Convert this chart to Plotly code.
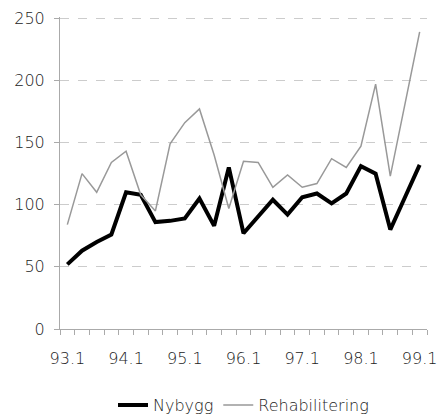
import plotly.graph_objects as go

# kvartaler 93.1 - 99.1
kvartal = [f"{aar}.{q}" for aar in range(93, 100) for q in range(1, 5)][:25]

nybygg = [52, 63, 70, 76, 110, 108, 86, 87, 89, 105, 83, 130, 77, 91, 104, 92,
          106, 109, 101, 109, 131, 125, 80, 106, 132]
rehabilitering = [84, 125, 110, 134, 143, 108, 95, 149, 166, 177, 140, 97, 135, 134, 114, 124,
                  114, 117, 137, 130, 147, 197, 123, 180, 239]

x = list(range(len(kvartal)))
tick_idx = x[::4]
tick_txt = [kvartal[i] for i in tick_idx]

fig = go.Figure()

fig.add_trace(go.Scatter(x=x, y=nybygg, name="Nybygg", mode="lines",
                         line=dict(color="black", width=4)))
fig.add_trace(go.Scatter(x=x, y=rehabilitering, name="Rehabilitering", mode="lines",
                         line=dict(color="#999999", width=1.5)))

fig.update_layout(
    width=439, height=420,
    margin=dict(l=60, r=12, t=17, b=91, autoexpand=False),
    paper_bgcolor="white", plot_bgcolor="white",
    font=dict(family="DejaVu Sans, sans-serif", size=16, color="#222222", weight=200),
    showlegend=True,
    legend=dict(orientation="h", x=0.5, xanchor="center", y=-0.244, yanchor="middle",
                font=dict(size=16), bgcolor="rgba(0,0,0,0)"),
)

fig.update_xaxes(
    range=[-0.5, len(kvartal) - 0.5],
    tickmode="array", tickvals=tick_idx, ticktext=tick_txt,
    ticks="", showgrid=False, zeroline=False, automargin=False,
    showline=True, linecolor="#aaaaaa", linewidth=1,
    tickfont=dict(color="#222222"),
    ticklabelstandoff=15,
    minor=dict(ticks="outside", tick0=-0.5, dtick=1, ticklen=5, tickcolor="#aaaaaa", showgrid=False),
)

fig.update_yaxes(
    range=[0, 251], tickvals=[0, 50, 100, 150, 200, 250],
    ticks="outside", ticklen=5, tickcolor="#aaaaaa", automargin=False,
    showline=True, linecolor="#aaaaaa", linewidth=1,
    tickfont=dict(color="#222222"),
    ticklabelstandoff=6,
    showgrid=True, gridcolor="#cccccc", griddash="dash", gridwidth=1,
    zeroline=False,
)

# fjern standardmargen i nettleseren så figuren fyller vinduet
fig.write_html("out.html", config={"displayModeBar": False},
               post_script="document.body.style.margin='0';")
